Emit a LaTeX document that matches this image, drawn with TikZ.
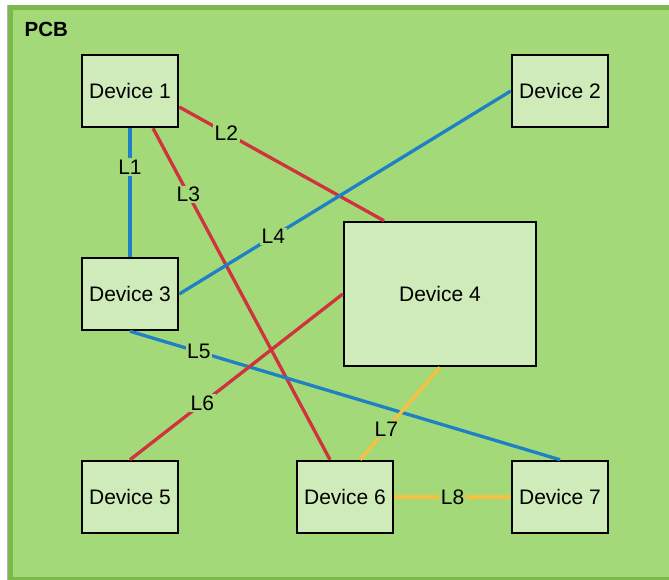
\documentclass[tikz,border=0pt]{standalone}
\usepackage{fontspec}
\setmainfont{Liberation Sans}
\usepackage{tikz}
\usetikzlibrary{positioning}
\definecolor{pcbgreen}{HTML}{A3D978}
\definecolor{pcbedge}{HTML}{7CB84B}
\definecolor{devgreen}{HTML}{D0EBBA}
\definecolor{wireblue}{HTML}{1F80C6}
\definecolor{wirered}{HTML}{D0323E}
\definecolor{wireyellow}{HTML}{F7C03E}

\begin{document}
\begin{tikzpicture}[x=1pt,y=-1pt,
  device/.style={draw,fill=devgreen,line width=2.5pt,minimum width=96pt,minimum height=72pt,inner sep=0pt,font=\fontsize{21}{25}\selectfont},
  wire/.style={line width=3.3pt},
  lbl/.style={fill=pcbgreen,text=black,inner sep=1.5pt,font=\fontsize{21}{25}\selectfont}]
\useasboundingbox (0,0) rectangle (669,580);
\clip (0,0) rectangle (669,580);
\draw[gray!60,line width=1pt] (7.5,5) -- (7.5,580);
\draw[line width=4.5pt,draw=pcbedge,fill=pcbgreen] (10.5,7.5) rectangle (700,579);
\node[anchor=west,inner sep=0pt,font=\bfseries\fontsize{20.5}{24}\selectfont] (pcb) at (24.5,29.5) {PCB};

\node[device] (d1) at (130,91) {Device 1};
\node[device] (d2) at (560,91) {Device 2};
\node[device] (d3) at (130,294) {Device 3};
\node[device,minimum width=192pt,minimum height=144pt] (d4) at (440,294) {Device 4};
\node[device] (d5) at (130,497) {Device 5};
\node[device] (d6) at (345,497) {Device 6};
\node[device] (d7) at (560,497) {Device 7};

\draw[wire,wireblue](d1.south)--node[lbl,pos=0.3]{L1}(d3.north);
\draw[wire,wirered]([yshift=-16pt]d1.east)--node[lbl,pos=0.23]{L2}([xshift=-56pt]d4.north);
\draw[wire,wirered]([xshift=23pt]d1.south)--node[lbl,pos=0.2]{L3}([xshift=-15pt]d6.north);
\draw[wire,wireblue](d3.east)--node[lbl,pos=0.284]{L4}(d2.west);
\draw[wire,wireblue](d3.south)--node[lbl,pos=0.16]{L5}(d7.north);
\draw[wire,wirered](d5.north)--node[lbl,pos=0.34]{L6}(d4.west);
\draw[wire,wireyellow]([xshift=15pt]d6.north)--node[lbl,pos=0.33]{L7}(d4.south);
\draw[wire,wireyellow](d6.east)--node[lbl]{L8}(d7.west);
\end{tikzpicture}
\end{document}
